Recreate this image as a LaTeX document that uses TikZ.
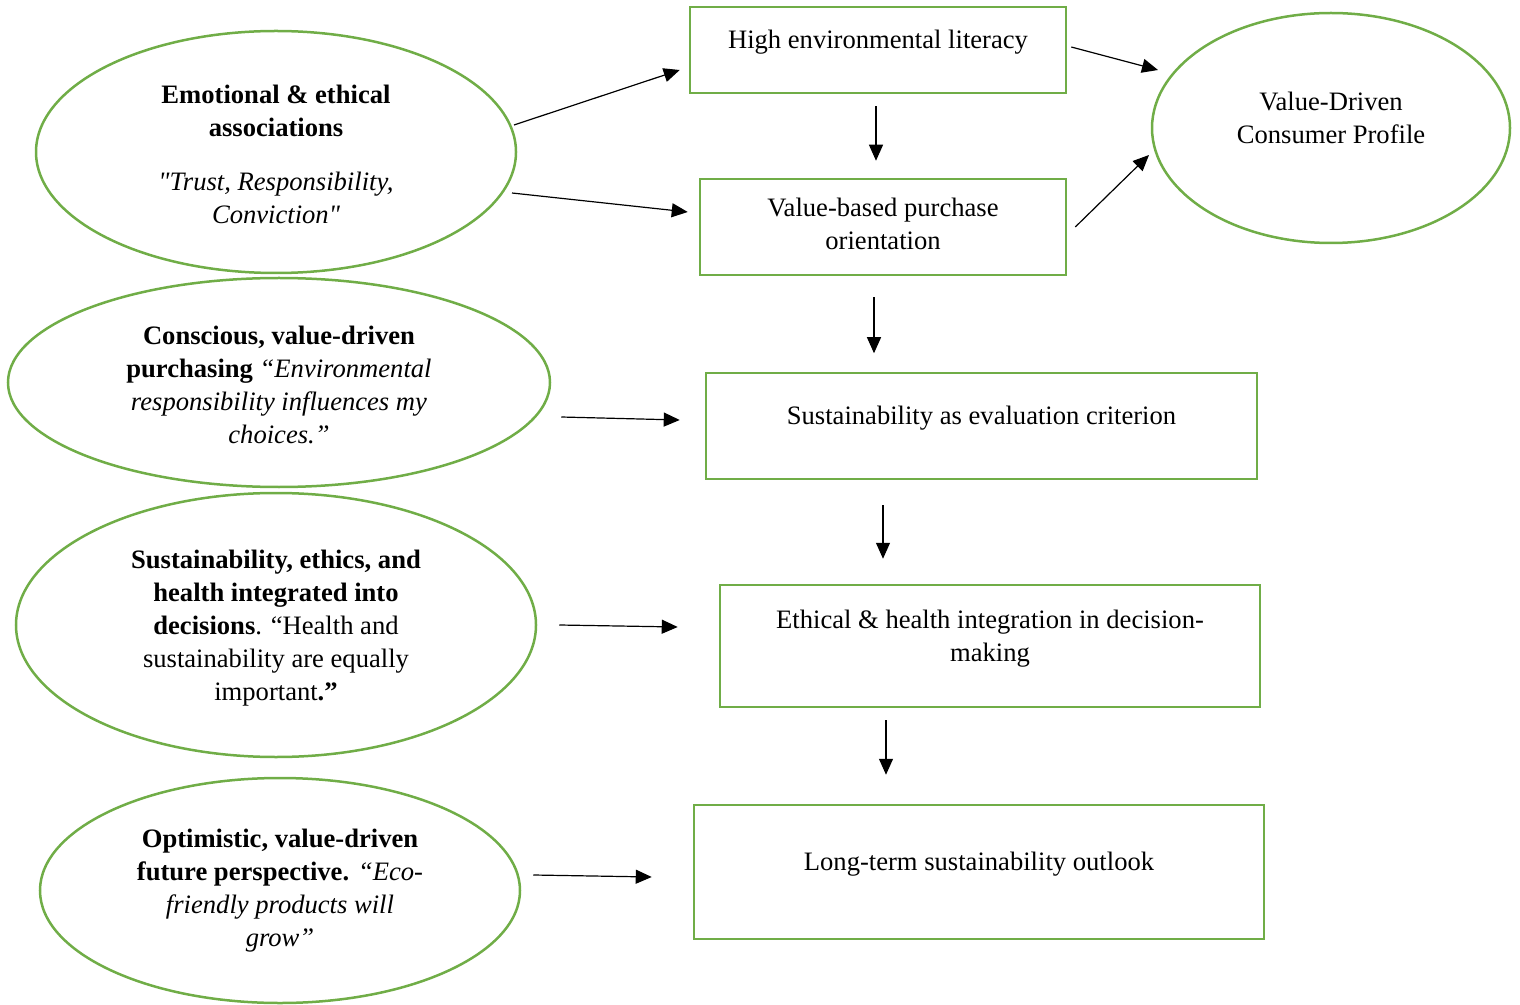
\documentclass[tikz,border=0pt]{standalone}
\usepackage{fontspec}
\setmainfont{Liberation Serif}[Ligatures=TeXOff]
\usetikzlibrary{shapes.geometric,arrows.meta,calc}
\definecolor{leafgreen}{RGB}{112,173,71}
\begin{document}
\begin{tikzpicture}[x=0.5pt,y=-0.5pt,
  every node/.style={font=\fontsize{13.3}{16.5}\selectfont},
  oval/.style={ellipse, draw=leafgreen, line width=1.25pt, inner sep=0pt},
  box/.style={rectangle, draw=leafgreen, line width=1.25pt, inner sep=0pt},
  txt/.style={align=center, inner sep=0pt},
  arr/.style={-{Triangle[length=8pt,width=7pt]}, line width=0.6pt, black}]
\useasboundingbox (0,0) rectangle (1520,1005);

% left column: themes with quotes
\node[oval, minimum width=240pt, minimum height=121pt] (e1) at (276,152) {};
\node[oval, minimum width=271pt, minimum height=104.5pt] (e2) at (279,382.5) {};
\node[oval, minimum width=260pt, minimum height=132pt] (e3) at (276,625) {};
\node[oval, minimum width=240pt, minimum height=112.5pt] (e4) at (280,890.5) {};

\node[txt] (q1) at ($(e1.center)+(0,2)$)
  {\textbf{Emotional \& ethical}\\ \textbf{associations}\\[10.5pt]
   \textit{"Trust, Responsibility,}\\ \textit{Conviction"}};
\node[txt] (q2) at ($(e2.center)+(0,2)$)
  {\textbf{Conscious, value-driven}\\ \textbf{purchasing} \textit{“Environmental}\\
   \textit{responsibility influences my}\\ \textit{choices.”}};
\node[txt] (q3) at ($(e3.center)+(0,3)$)
  {\textbf{Sustainability, ethics, and}\\ \textbf{health integrated into}\\
   \textbf{decisions}. “Health and\\ sustainability are equally\\ important\textbf{.”}};
\node[txt] (q4) at ($(e4.center)+(0,0)$)
  {\textbf{Optimistic, value-driven}\\ \textbf{future perspective.} \textit{“Eco-}\\
   \textit{friendly products will}\\ \textit{grow”}};

% middle column: outcome boxes
\node[box, minimum width=188pt, minimum height=43pt] (b1) at (878,50) {};
\node[box, minimum width=183pt, minimum height=48pt] (b2) at (883,227) {};
\node[box, minimum width=275.5pt, minimum height=53pt] (b3) at (981.5,426) {};
\node[box, minimum width=270pt, minimum height=61pt] (b4) at (990,646) {};
\node[box, minimum width=285pt, minimum height=67pt] (b5) at (979,872) {};

\node[txt] (t1) at ($(b1.center)+(0,-7.5)$) {High environmental literacy};
\node[txt] (t2) at ($(b2.center)+(0,-3)$) {Value-based purchase\\ orientation};
\node[txt] (t3) at ($(b3.center)+(0,-7.5)$) {Sustainability as evaluation criterion};
\node[txt] (t4) at ($(b4.center)+(0,-7)$) {Ethical \& health integration in decision-\\ making};
\node[txt] (t5) at ($(b5.center)+(0,-7.5)$) {Long-term sustainability outlook};

% right: profile
\node[oval, minimum width=179pt, minimum height=115pt] (vp) at (1331,128) {};
\node[txt] (tv) at ($(vp.center)+(0,-10)$) {Value-Driven\\ Consumer Profile};

% connectors
\draw[arr] ($(e1.center)+(238,-27)$) -- ($(b1.west)+(-9,20)$);
\draw[arr] ($(e1.center)+(236,41)$) -- ($(b2.west)+(-11,-15)$);
\draw[arr] ($(b1.south)+(-2,12)$) -- ($(b2.north)+(-7,-17)$);
\draw[arr] ($(b1.east)+(4,-3)$) -- ($(vp.center)+(-173,-58)$);
\draw[arr] ($(b2.east)+(8,0)$) -- ($(vp.center)+(-182,27)$);
\draw[arr] ($(b2.south)+(-9,21)$) -- ($(b2.south)+(-9,77)$);
\draw[arr] ($(e2.east)+(10,34.5)$) -- ($(b3.west)+(-25,-6)$);
\draw[arr] ($(b3.south)+(-98.5,25)$) -- ($(b4.north)+(-107,-25)$);
\draw[arr] ($(e3.east)+(22,0)$) -- ($(b4.west)+(-41,-19)$);
\draw[arr] ($(b4.south)+(-104,12)$) -- ($(b5.north)+(-93,-29)$);
\draw[arr] ($(e4.east)+(12,-15.5)$) -- ($(b5.west)+(-41,5)$);
\end{tikzpicture}
\end{document}
